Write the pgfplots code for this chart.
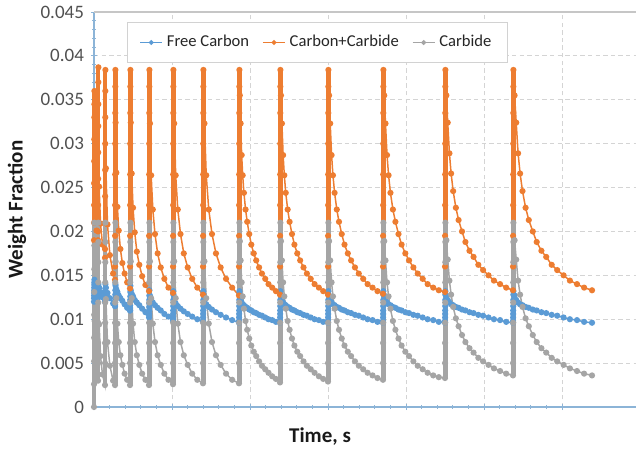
\documentclass[border=0pt]{standalone}
\usepackage{fontspec}
\setmainfont{Carlito}
\usepackage{pgfplots}
\pgfplotsset{compat=1.18}
\usepackage{pgfplotstable}
\definecolor{fcblue}{HTML}{5B9BD5}
\definecolor{ccorange}{HTML}{ED7D31}
\definecolor{cbgray}{HTML}{A5A5A5}
\definecolor{axblue}{RGB}{140,180,215}
\definecolor{gridgray}{RGB}{212,212,212}
\definecolor{ticktext}{RGB}{80,80,80}

\pgfplotstableread{
t fc cc cb
0 0.0120 0.0190 0.0000
0.05 0.0124 0.0210 0.0026
0.10 0.0127 0.0230 0.0052
0.15 0.0130 0.0255 0.0079
0.20 0.0133 0.0280 0.0105
0.25 0.0136 0.0305 0.0131
0.30 0.0139 0.0330 0.0157
0.35 0.0142 0.0345 0.0184
0.40 0.0145 0.0360 0.0210
0.64 0.0141 0.0254 0.0098
1.44 0.0136 0.0221 0.0062
2.56 0.0130 0.0201 0.0042
4 0.0125 0.0190 0.0030
4.05 0.0125 0.0200 0.0050
4.10 0.0127 0.0230 0.0073
4.15 0.0129 0.0260 0.0096
4.20 0.0131 0.0290 0.0119
4.25 0.0133 0.0320 0.0142
4.30 0.0135 0.0345 0.0165
4.35 0.0137 0.0370 0.0188
4.40 0.0140 0.0387 0.0210
5.12 0.0136 0.0251 0.0094
6.52 0.0131 0.0209 0.0058
8.48 0.0125 0.0185 0.0037
11 0.0120 0.0170 0.0025
11.05 0.0120 0.0180 0.0050
11.10 0.0122 0.0210 0.0073
11.15 0.0124 0.0240 0.0096
11.20 0.0126 0.0270 0.0119
11.25 0.0128 0.0300 0.0142
11.30 0.0131 0.0330 0.0165
11.35 0.0135 0.0360 0.0188
11.40 0.0140 0.0384 0.0210
11.9 0.0136 0.0272 0.0123
13.5 0.0130 0.0208 0.0074
15.9 0.0124 0.0173 0.0047
19.1 0.0118 0.0152 0.0030
21 0.0115 0.0145 0.0025
21.05 0.0115 0.0160 0.0050
21.10 0.0117 0.0195 0.0073
21.15 0.0119 0.0230 0.0096
21.20 0.0121 0.0265 0.0119
21.25 0.0124 0.0300 0.0142
21.30 0.0128 0.0335 0.0165
21.35 0.0133 0.0365 0.0188
21.40 0.0140 0.0384 0.0210
21.6 0.0138 0.0324 0.0166
22.35 0.0134 0.0267 0.0124
23.4 0.0131 0.0228 0.0095
24.75 0.0127 0.0201 0.0074
26.4 0.0124 0.0180 0.0059
28.35 0.0121 0.0164 0.0048
30.6 0.0117 0.0152 0.0038
33.15 0.0113 0.0142 0.0031
36 0.0110 0.0135 0.0025
36.05 0.0110 0.0160 0.0050
36.10 0.0113 0.0195 0.0073
36.15 0.0116 0.0230 0.0096
36.20 0.0119 0.0265 0.0119
36.25 0.0122 0.0300 0.0142
36.30 0.0126 0.0335 0.0165
36.35 0.0131 0.0365 0.0188
36.40 0.0138 0.0384 0.0210
36.76 0.0133 0.0324 0.0166
37.71 0.0129 0.0266 0.0124
39.04 0.0126 0.0227 0.0095
40.75 0.0122 0.0199 0.0074
42.84 0.0119 0.0177 0.0059
45.31 0.0116 0.0162 0.0048
48.16 0.0112 0.0149 0.0038
51.39 0.0108 0.0139 0.0031
55 0.0105 0.0132 0.0025
55.05 0.0102 0.0160 0.0050
55.10 0.0106 0.0195 0.0073
55.15 0.0110 0.0230 0.0096
55.20 0.0114 0.0265 0.0119
55.25 0.0118 0.0300 0.0142
55.30 0.0122 0.0335 0.0165
55.35 0.0127 0.0365 0.0188
55.40 0.0133 0.0384 0.0210
55.96 0.0127 0.0323 0.0166
57.16 0.0122 0.0264 0.0124
58.84 0.0119 0.0225 0.0095
61 0.0116 0.0197 0.0074
63.64 0.0113 0.0175 0.0059
66.76 0.0110 0.0159 0.0048
70.36 0.0106 0.0146 0.0038
74.44 0.0103 0.0136 0.0031
79 0.0100 0.0130 0.0026
79.05 0.0098 0.0160 0.0050
79.10 0.0102 0.0195 0.0073
79.15 0.0106 0.0230 0.0096
79.20 0.0110 0.0265 0.0119
79.25 0.0115 0.0300 0.0142
79.30 0.0122 0.0335 0.0165
79.35 0.0128 0.0365 0.0188
79.40 0.0132 0.0384 0.0210
80.2 0.0123 0.0323 0.0166
81.7 0.0118 0.0264 0.0124
83.8 0.0115 0.0225 0.0095
86.5 0.0112 0.0197 0.0074
89.8 0.0109 0.0175 0.0059
93.7 0.0106 0.0159 0.0048
98.2 0.0103 0.0146 0.0038
103.3 0.0100 0.0136 0.0031
109 0.0097 0.0128 0.0027
109.05 0.0098 0.0160 0.0050
109.10 0.0102 0.0195 0.0073
109.15 0.0106 0.0230 0.0096
109.20 0.0110 0.0265 0.0119
109.25 0.0115 0.0300 0.0142
109.30 0.0122 0.0335 0.0165
109.35 0.0128 0.0365 0.0188
109.40 0.0132 0.0384 0.0210
110.44 0.0122 0.0323 0.0166
112.24 0.0117 0.0264 0.0124
114.76 0.0114 0.0225 0.0095
118 0.0111 0.0197 0.0074
121.96 0.0108 0.0175 0.0059
126.64 0.0105 0.0159 0.0048
132.04 0.0102 0.0146 0.0038
138.16 0.0099 0.0136 0.0031
145 0.0096 0.0127 0.0027
145.05 0.0098 0.0160 0.0050
145.10 0.0102 0.0195 0.0073
145.15 0.0106 0.0230 0.0096
145.20 0.0110 0.0265 0.0119
145.25 0.0115 0.0300 0.0142
145.30 0.0122 0.0335 0.0165
145.35 0.0128 0.0365 0.0188
145.40 0.0132 0.0384 0.0210
145.82 0.0127 0.0355 0.0189
146.64 0.0122 0.0323 0.0167
147.67 0.0119 0.0287 0.0142
148.69 0.0117 0.0264 0.0126
149.92 0.0116 0.0244 0.0112
151.56 0.0114 0.0225 0.0098
153.2 0.0113 0.0211 0.0088
155.25 0.0111 0.0197 0.0078
157.3 0.0110 0.0185 0.0070
159.76 0.0108 0.0175 0.0063
162.22 0.0107 0.0167 0.0058
165.09 0.0105 0.0159 0.0052
167.96 0.0104 0.0152 0.0047
171.24 0.0102 0.0146 0.0043
174.52 0.0100 0.0140 0.0039
178.21 0.0099 0.0136 0.0035
181.9 0.0097 0.0132 0.0032
186 0.0096 0.0128 0.0028
186.05 0.0098 0.0160 0.0050
186.10 0.0102 0.0195 0.0073
186.15 0.0106 0.0230 0.0096
186.20 0.0110 0.0265 0.0119
186.25 0.0115 0.0300 0.0142
186.30 0.0122 0.0335 0.0165
186.35 0.0128 0.0365 0.0188
186.40 0.0132 0.0384 0.0210
186.96 0.0127 0.0355 0.0189
187.92 0.0122 0.0323 0.0167
189.12 0.0119 0.0287 0.0142
190.32 0.0117 0.0264 0.0126
191.76 0.0116 0.0244 0.0112
193.68 0.0114 0.0225 0.0098
195.6 0.0113 0.0211 0.0088
198 0.0111 0.0197 0.0078
200.4 0.0110 0.0185 0.0070
203.28 0.0108 0.0175 0.0063
206.16 0.0107 0.0167 0.0058
209.52 0.0105 0.0159 0.0052
212.88 0.0104 0.0152 0.0047
216.72 0.0102 0.0146 0.0043
220.56 0.0100 0.0140 0.0039
224.88 0.0099 0.0136 0.0035
229.2 0.0097 0.0132 0.0032
234 0.0096 0.0128 0.0029
234.05 0.0098 0.0160 0.0050
234.10 0.0102 0.0195 0.0073
234.15 0.0106 0.0230 0.0096
234.20 0.0110 0.0265 0.0119
234.25 0.0115 0.0300 0.0142
234.30 0.0122 0.0335 0.0165
234.35 0.0128 0.0365 0.0188
234.40 0.0132 0.0384 0.0210
235.1 0.0127 0.0355 0.0189
236.2 0.0122 0.0323 0.0167
237.58 0.0119 0.0287 0.0142
238.95 0.0117 0.0264 0.0126
240.6 0.0116 0.0244 0.0112
242.8 0.0114 0.0225 0.0098
245 0.0113 0.0211 0.0088
247.75 0.0111 0.0197 0.0078
250.5 0.0110 0.0185 0.0070
253.8 0.0108 0.0175 0.0063
257.1 0.0107 0.0167 0.0058
260.95 0.0105 0.0159 0.0052
264.8 0.0104 0.0152 0.0047
269.2 0.0102 0.0146 0.0043
273.6 0.0100 0.0140 0.0039
278.55 0.0099 0.0136 0.0036
283.5 0.0097 0.0132 0.0033
289 0.0096 0.0129 0.0031
289.05 0.0098 0.0160 0.0050
289.10 0.0102 0.0195 0.0073
289.15 0.0106 0.0230 0.0096
289.20 0.0110 0.0265 0.0119
289.25 0.0115 0.0300 0.0142
289.30 0.0122 0.0335 0.0165
289.35 0.0128 0.0365 0.0188
289.40 0.0132 0.0384 0.0210
290.24 0.0127 0.0355 0.0189
291.48 0.0122 0.0323 0.0167
293.03 0.0119 0.0287 0.0142
294.58 0.0117 0.0264 0.0126
296.44 0.0116 0.0244 0.0112
298.92 0.0114 0.0225 0.0098
301.4 0.0113 0.0211 0.0088
304.5 0.0111 0.0197 0.0078
307.6 0.0110 0.0185 0.0070
311.32 0.0108 0.0175 0.0063
315.04 0.0107 0.0167 0.0058
319.38 0.0105 0.0159 0.0052
323.72 0.0104 0.0152 0.0047
328.68 0.0102 0.0146 0.0043
333.64 0.0100 0.0140 0.0039
339.22 0.0099 0.0136 0.0036
344.8 0.0097 0.0133 0.0034
351 0.0096 0.0131 0.0033
351.05 0.0098 0.0160 0.0050
351.10 0.0102 0.0195 0.0073
351.15 0.0106 0.0230 0.0096
351.20 0.0110 0.0265 0.0119
351.25 0.0115 0.0300 0.0142
351.30 0.0122 0.0335 0.0165
351.35 0.0128 0.0365 0.0188
351.40 0.0132 0.0384 0.0210
352.36 0.0127 0.0355 0.0190
353.72 0.0122 0.0324 0.0168
355.42 0.0119 0.0289 0.0144
357.12 0.0117 0.0266 0.0128
359.16 0.0116 0.0246 0.0114
361.88 0.0114 0.0227 0.0101
364.6 0.0113 0.0213 0.0092
368 0.0111 0.0200 0.0082
371.4 0.0110 0.0188 0.0074
375.48 0.0108 0.0178 0.0067
379.56 0.0107 0.0171 0.0062
384.32 0.0105 0.0162 0.0056
389.08 0.0104 0.0156 0.0052
394.52 0.0102 0.0150 0.0048
399.96 0.0100 0.0144 0.0044
406.08 0.0099 0.0140 0.0041
412.2 0.0097 0.0136 0.0038
419 0.0096 0.0133 0.0036
419.05 0.0098 0.0160 0.0050
419.10 0.0102 0.0195 0.0073
419.15 0.0106 0.0230 0.0096
419.20 0.0110 0.0265 0.0119
419.25 0.0115 0.0300 0.0142
419.30 0.0122 0.0335 0.0165
419.35 0.0128 0.0365 0.0188
419.40 0.0132 0.0384 0.0210
420.6 0.0127 0.0355 0.0190
422.2 0.0122 0.0324 0.0168
424.1 0.0119 0.0289 0.0144
426.1 0.0117 0.0266 0.0128
428.5 0.0116 0.0246 0.0114
431.6 0.0114 0.0227 0.0101
434.8 0.0113 0.0213 0.0092
438.8 0.0111 0.0200 0.0082
442.7 0.0110 0.0188 0.0074
447.4 0.0108 0.0178 0.0067
452.2 0.0107 0.0171 0.0062
457.7 0.0105 0.0162 0.0056
463.2 0.0104 0.0156 0.0052
469.6 0.0102 0.0150 0.0048
475.9 0.0100 0.0144 0.0044
483.0 0.0099 0.0140 0.0041
490.1 0.0097 0.0136 0.0038
498 0.0096 0.0133 0.0036
}\data

% dense boost-phase columns (many closely spaced samples): low and high ends
\pgfplotstableread{
t v
0.2 0.0190
0.2 0.0360
0.2 nan
4.2 0.0190
4.2 0.0387
4.2 nan
11.2 0.0170
11.2 0.0384
11.2 nan
21.2 0.0145
21.2 0.0384
21.2 nan
36.2 0.0135
36.2 0.0384
36.2 nan
55.2 0.0132
55.2 0.0384
55.2 nan
79.2 0.0130
79.2 0.0384
79.2 nan
109.2 0.0128
109.2 0.0384
109.2 nan
145.2 0.0127
145.2 0.0384
145.2 nan
186.2 0.0128
186.2 0.0384
186.2 nan
234.2 0.0128
234.2 0.0384
234.2 nan
289.2 0.0129
289.2 0.0384
289.2 nan
351.2 0.0131
351.2 0.0384
351.2 nan
419.2 0.0133
419.2 0.0384
}\obars

\pgfplotstableread{
t v
0.2 0.0000
0.2 0.0210
0.2 nan
4.2 0.0030
4.2 0.0210
4.2 nan
11.2 0.0025
11.2 0.0210
11.2 nan
21.2 0.0025
21.2 0.0210
21.2 nan
36.2 0.0025
36.2 0.0210
36.2 nan
55.2 0.0025
55.2 0.0210
55.2 nan
79.2 0.0026
79.2 0.0210
79.2 nan
109.2 0.0027
109.2 0.0210
109.2 nan
145.2 0.0027
145.2 0.0210
145.2 nan
186.2 0.0028
186.2 0.0210
186.2 nan
234.2 0.0029
234.2 0.0210
234.2 nan
289.2 0.0031
289.2 0.0210
289.2 nan
351.2 0.0033
351.2 0.0210
351.2 nan
419.2 0.0036
419.2 0.0210
}\gbars

\begin{document}
\begin{tikzpicture}
\begin{axis}[
  scale only axis,
  width=271pt, height=197.5pt,
  xmin=0, xmax=542, ymin=0, ymax=0.045,
  clip=false,
  unbounded coords=jump,
  axis lines*=left,
  axis line style={axblue, line width=0.6pt},
  xtick={0,78,156,234,312,390,468},
  xticklabels={},
  minor x tick num=4,
  ytick={0,0.005,0.01,0.015,0.02,0.025,0.03,0.035,0.04,0.045},
  yticklabels={0,0.005,0.01,0.015,0.02,0.025,0.03,0.035,0.04,0.045},
  minor y tick num=4,
  scaled y ticks=false,
  tick align=center,
  major tick length=3pt,
  minor tick length=1.6pt,
  tick style={axblue, line width=0.5pt},
  grid=major,
  major grid style={gridgray, line width=0.45pt, dash pattern=on 2.2pt off 1.6pt},
  yticklabel style={font=\fontsize{9.5}{11}\selectfont, text=ticktext},
  xlabel={Time, s},
  ylabel={Weight Fraction},
  label style={font=\bfseries\fontsize{10.5}{12}\selectfont, text=black!90},
  xlabel style={at={(axis description cs:0.417,-0.076)}, anchor=center},
  ylabel style={at={(axis description cs:-0.142,0.5)}, anchor=center},
  legend style={at={(axis description cs:0.061,0.975)}, anchor=north west,
    draw=gray!35, fill=white, font=\fontsize{8.3}{10}\selectfont, text=black!85,
    inner xsep=6pt, inner ysep=4.5pt,
    /tikz/every even column/.append style={column sep=4.5pt}},
  legend columns=3,
  legend cell align=left,
  legend image code/.code={\draw[mark repeat=2,mark phase=2,#1,mark size=0.8pt] plot coordinates {(0pt,0pt) (5.5pt,0pt) (11pt,0pt)};},
  every axis plot/.append style={line width=0.75pt, mark=*, mark size=1.15pt},
]
\addplot[fcblue, mark options={fill=fcblue, draw=fcblue}] table[x=t, y=fc]{\data};
\addlegendentry{Free Carbon}
\addplot[ccorange, mark options={fill=ccorange, draw=ccorange}] table[x=t, y=cc]{\data};
\addlegendentry{Carbon+Carbide}
\addplot[ccorange, no marks, line width=2.3pt, forget plot] table[x=t, y=v]{\obars};
\addplot[cbgray, mark options={fill=cbgray, draw=cbgray}] table[x=t, y=cb]{\data};
\addlegendentry{Carbide}
\addplot[cbgray, no marks, line width=2.3pt, forget plot] table[x=t, y=v]{\gbars};
\draw[gray!45, line width=1pt] (rel axis cs:0,1) -- (rel axis cs:1,1);
\coordinate (BL) at (rel axis cs:0,0);
\coordinate (TR) at (rel axis cs:1,1);
\end{axis}
\pgfresetboundingbox
\path ([shift={(-47pt,-22pt)}]BL) rectangle ([shift={(0pt,6pt)}]TR);
\end{tikzpicture}
\end{document}
